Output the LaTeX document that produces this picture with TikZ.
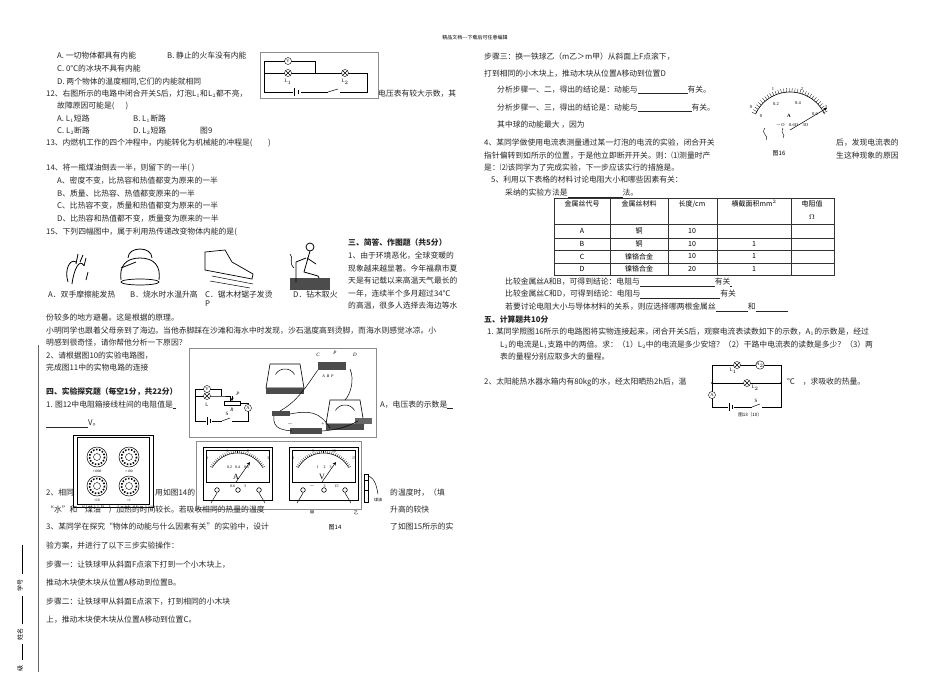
\documentclass[tikz,border=0pt]{standalone}
\usepackage{fontspec}
\newfontfamily\cjk{Noto Sans CJK SC}
\setmainfont{Liberation Serif}
\begin{document}
\begin{tikzpicture}[x=1pt,y=-1pt,
 t/.style={anchor=west,inner sep=0pt,font=\cjk\fontsize{7.8}{9}\selectfont,text=black!85},
 tb/.style={t,font=\cjk\bfseries\fontsize{7.8}{9}\selectfont},
 sm/.style={inner sep=0pt,font=\fontsize{5}{6}\selectfont},
 met/.style={circle,draw,fill=white,minimum size=7pt,inner sep=0pt,font=\fontsize{4.5}{5}\selectfont},
 lamp/.style={circle,draw,fill=white,minimum size=7pt,inner sep=0pt,path picture={\draw (path picture bounding box.north west)--(path picture bounding box.south east) (path picture bounding box.north east)--(path picture bounding box.south west);}},
 fr/.style={draw=black!45,line width=0.5pt},
 wire/.style={draw,line width=0.5pt},
 cell/.style={inner sep=0pt,font=\cjk\fontsize{7}{8}\selectfont}]
\useasboundingbox (0,0) rectangle (950,672);
\fill[white] (0,0) rectangle (950,672);
\node[sm,font=\cjk\fontsize{5}{6}\selectfont] (hdr) at (475,38) {精品文档---下载后可任意编辑};
% left column
\node[t] (a1) at (57,56) {A. 一切物体都具有内能};
\node[t] (b1) at (167,56) {B. 静止的火车没有内能};
\node[t] (c1) at (57,69) {C. 0℃的冰块不具有内能};
\node[t] (d1) at (57,82) {D. 两个物体的温度相同,它们的内能就相同};
\node[t] (q12) at (46,94) {12、右图所示的电路中闭合开关S后，灯泡L$_1$和L$_2$都不亮，};
\node[t] (q12b) at (378,94) {电压表有较大示数，其};
\node[t] (q12c) at (57,106) {故障原因可能是(\quad\ \ )};
\node[t] (q12A) at (57,119) {A. L$_1$短路};
\node[t] (q12B) at (133,119) {B. L$_1$断路};
\node[t] (q12C) at (57,131) {C. L$_2$断路};
\node[t] (q12D) at (133,131) {D. L$_2$短路};
\node[t] (f9) at (200,131) {图9};
% fig 9
\draw[fr] (260,52) rectangle (378,98);
\coordinate (p1) at (264,61); \coordinate (p2) at (315,61); \coordinate (p3) at (315,73);
\coordinate (p4) at (264,73); \coordinate (p5) at (367,73); \coordinate (p6) at (367,92); \coordinate (p7) at (264,92);
\draw[wire] (p1)--(p2)--(p3) (p4)--(p5)--(p6)--(p7)--(p1);
\node[met] (V9) at (288,61) {V};
\node[lamp] (L91) at (288,73) {};
\node[lamp] (L92) at (345,73) {};
\node[sm] (L91t) at (288,82) {L$_1$};
\node[sm] (L92t) at (345,82) {L$_2$};
\fill[white] (293,88) rectangle (301,96);
\draw[wire] (294,88)--(294,96) (298,90)--(298,94);
\fill[white] (328,88) rectangle (340,96);
\draw[wire] (328,92)--(338,89);
\node[t] (q13) at (46,143) {13、内燃机工作的四个冲程中，内能转化为机械能的冲程是(\qquad )};
\node[t] (q14) at (46,168) {14、将一瓶煤油倒去一半，则留下的一半( )};
\node[t] (q14a) at (57,181) {A、密度不变，比热容和热值都变为原来的一半};
\node[t] (q14b) at (57,194) {B、质量、比热容、热值都变原来的一半};
\node[t] (q14c) at (57,206) {C、比热容不变，质量和热值都变为原来的一半};
\node[t] (q14d) at (57,219) {D、比热容和热值都不变，质量变为原来的一半};
\node[t] (q15) at (46,232) {15、下列四幅图中，属于利用热传递改变物体内能的是(};
% pictures
\draw[line width=0.8pt] (68,282)..controls (64,270) and (70,258) ..(76,262) (72,284)..controls (74,268) and (80,258)..(84,266) (76,264)--(78,254) (80,262)--(83,255) (84,266)--(86,258) (86,280)--(88,272);
\draw[line width=0.7pt] (140,282) ellipse (19 and 3);
\draw[line width=0.8pt] (121,280)..controls (119,266) and (126,258) ..(140,258)..controls (154,258) and (161,266)..(159,280);
\draw[line width=0.8pt] (128,258)..controls (128,246) and (152,246)..(152,258);
\draw[line width=0.8pt] (121,268)--(136,262);
\draw[line width=0.7pt] (205,252)--(225,250)--(232,262)--(253,274)--(252,279)--(205,270)--cycle;
\draw[line width=0.5pt] (212,276)--(253,284) (210,281)--(250,288);
\draw[line width=0.8pt] (310,247) circle (4);
\draw[line width=0.8pt] (310,251)--(304,272)--(318,276)--(322,284) (306,258)--(296,262) (307,258)--(316,264);
\fill[black!70] (290,278) rectangle (330,290);
\draw[line width=0.6pt] (296,262)--(296,282) (294,268)..controls (288,262) and (294,258)..(290,254);
\node[t] (pa) at (48,295) {A．双手摩擦能发热};
\node[t] (pb) at (130,295) {B．烧水时水温升高};
\node[t] (pc) at (205,295) {C．锯木材锯子发烫};
\node[t] (pp) at (205,304) {P};
\node[t] (pd) at (293,295) {D．钻木取火};
\node[tb] (s3) at (348,243) {三、简答、作图题（共5分）};
\node[t] (s31) at (348,256) {1、由于环境恶化，全球变暖的};
\node[t] (s32) at (348,269) {现象越来越显著。今年福鼎市夏};
\node[t] (s33) at (348,281) {天是有记载以来高温天气最长的};
\node[t] (s34) at (348,294) {一年，连续半个多月超过34℃};
\node[t] (s35) at (348,306) {的高温，很多人选择去海边等水};
\node[t] (s36) at (46,318) {份较多的地方避暑。这是根据的原理。};
\node[t] (s37) at (46,331) {小明同学也跟着父母亲到了海边。当他赤脚踩在沙滩和海水中时发现，沙石温度高到烫脚，而海水则感觉冰凉。小};
\node[t] (s38) at (46,343) {明感到很奇怪，请你帮他分析一下原因？};
\node[t] (s39) at (46,356) {2、请根据图10的实验电路图，};
\node[t] (s310) at (46,368) {完成图11中的实物电路的连接};
\node[tb] (s4) at (46,392) {四、实验探究题（每空1分，共22分）};
\node[t] (s41) at (46,405) {1. 图12中电阻箱接线柱间的电阻值是\underline{\ \ }};
\node[t] (s41b) at (380,405) {A，电压表的示数是\underline{\ \ \ }};
\node[t] (s41c) at (46,424) {\underline{\hspace{42pt}}V。};
% fig 10/11
\draw[fr,fill=white] (189,348) rectangle (376,437);
\draw[wire] (195,389)--(195,421)--(248,421)--(248,408) (195,389)--(221,389)--(221,396) (195,396)--(221,396)--(230,396)--(230,403)--(248,403)--(248,408);
\node[met] (V10) at (207,389) {V};
\node[lamp] (L10) at (207,396) {};
\node[sm] (L10t) at (207,405) {L};
\draw[wire,fill=white] (224,401) rectangle (240,405);
\draw[wire,-stealth] (232,396)--(232,401);
\node[sm] (P10) at (238,394) {\itshape P};
\node[sm] (R10) at (232,410) {\itshape R};
\node[met,fill=white] (A10) at (248,408) {A};
\fill[white] (206,418) rectangle (212,424); \draw[wire] (207,417)--(207,425) (210,419)--(210,423);
\fill[white] (222,418) rectangle (232,424); \draw[wire] (222,421)--(230,418);
\node[sm] (S10) at (227,414) {S};
% physical meters
\foreach \px/\py in {270/364, 330/400}{
 \draw[line width=0.6pt,fill=white] (\px,\py) -- ++(30,0) -- ++(4,24) -- ++(-38,0) -- cycle;
 \draw[line width=0.5pt] plot[domain=30:150,samples=20] ({\px+15+11*cos(\x)},{\py+16-11*sin(\x)});
 \fill[black!70] (\px-4,\py+24) rectangle (\px+34,\py+30);
}
\fill[black!70] (318,362) rectangle (346,370);
\node[sm,font=\itshape\fontsize{5}{6}\selectfont] (rc) at (318,355) {C};
\node[sm,font=\itshape\fontsize{5}{6}\selectfont] (rp) at (335,353) {P};
\node[sm,font=\itshape\fontsize{5}{6}\selectfont] (rd) at (355,355) {D};
\node[sm,font=\itshape\fontsize{4}{5}\selectfont] (ra) at (328,376) {A\ \ B\ \ P};
\fill[black!70] (272,411) rectangle (290,416);
\fill[black!70] (290,428) rectangle (322,434);
\node[sm] (bm) at (290,424) {$-$};
\node[sm] (bp) at (323,424) {+};
\fill[black!60] (355,418) rectangle (372,424);
\draw[line width=0.5pt] (280,411)..controls (300,400) and (310,380)..(318,370) (350,369)..controls (355,380) and (350,395)..(345,400)
 (274,416)..controls (272,430) and (285,430)..(292,431) (322,431)..controls (335,430) and (345,428)..(358,421) (290,414)..controls (310,410) and (320,412)..(330,428);
% resistance box
\draw[line width=0.6pt,fill=white] (73,435) rectangle (153,507);
\draw[line width=0.5pt] (77,437) rectangle (149,504);
\foreach \cx/\cy/\lab in {97/457/{×1000},129/457/{×100},97/486/{×10},129/486/{×1}}{
 \draw[line width=0.5pt] (\cx,\cy) circle (10);
 \draw[line width=1.6pt,dash pattern=on 1.5pt off 1.6pt] (\cx,\cy) circle (7.5);
 \draw[line width=0.4pt] (\cx,\cy) circle (3.5);
 \node[sm,font=\fontsize{3.5}{4}\selectfont] at (\cx,\cy+14) {\lab};
}
% meters fig14
\draw[fr,fill=white] (196,441) rectangle (361,509);
\foreach \mx/\n in {203/A,289/V}{
 \draw[line width=0.8pt] (\mx,447) rectangle (\mx+69,500);
 \draw[line width=0.6pt] (\mx+3,450) rectangle (\mx+66,482);
 \draw[line width=0.5pt] plot[domain=30:150,samples=30] ({\mx+34.5+29*cos(\x)},{482-29*sin(\x)});
 \foreach \a in {150,146,...,30} \draw[line width=0.3pt] ({\mx+34.5+29*cos(\a)},{482-29*sin(\a)}) -- ({\mx+34.5+31.5*cos(\a)},{482-31.5*sin(\a)});
 \node[sm,font=\fontsize{8}{8}\selectfont] at (\mx+33,477) {\n};
 \draw[line width=0.5pt,-stealth] (\mx+33,482)--(\mx+47,462);
 \foreach \tx in {14,35,56} \draw[line width=0.6pt] (\mx+\tx,490) circle (2.3);
 \draw[line width=0.5pt] (\mx+14,493)--(\mx+8,503) (\mx+56,493)--(\mx+62,503);
}
\node[sm,font=\fontsize{4}{5}\selectfont] (am1) at (207,458) {0};
\node[sm,font=\fontsize{4}{5}\selectfont] (am2) at (227,451) {1};
\node[sm,font=\fontsize{4}{5}\selectfont] (am3) at (248,451) {2};
\node[sm,font=\fontsize{4}{5}\selectfont] (am4) at (268,458) {3};
\node[sm,font=\fontsize{4}{5}\selectfont] (am5) at (238,467) {0.2\ \ \ 0.4\ \ \ \ 0.6};
\node[sm,font=\fontsize{4}{5}\selectfont] (am6) at (238,486) {0.6\qquad\ 3};
\node[sm,font=\fontsize{4}{5}\selectfont] (vm1) at (293,458) {0};
\node[sm,font=\fontsize{4}{5}\selectfont] (vm2) at (313,451) {5};
\node[sm,font=\fontsize{4}{5}\selectfont] (vm3) at (334,451) {10};
\node[sm,font=\fontsize{4}{5}\selectfont] (vm4) at (354,458) {15};
\node[sm,font=\fontsize{4}{5}\selectfont] (vm5) at (324,467) {1\ \ \ \ \ 2\ \ \ \ 3};
\node[sm,font=\fontsize{4}{5}\selectfont] (vm6) at (324,486) {$-$\qquad\ 3\qquad\ 15};
\draw[line width=0.5pt] (364,474) rectangle (368,502) (364,480)--(369,480) (364,490)--(369,490);
\draw[line width=0.5pt] (368,476)..controls (376,478) and (377,490)..(378,494);
\node[sm,font=\cjk\fontsize{4}{5}\selectfont] (my) at (378,500) {煤油};
\node[sm,font=\cjk\fontsize{4.5}{5}\selectfont] (jia) at (312,513) {甲};
\node[sm,font=\cjk\fontsize{4.5}{5}\selectfont] (yi) at (356,513) {乙};
\node[sm,font=\cjk\fontsize{6}{7}\selectfont] (f14) at (335,527) {图14};
\node[t] (q2) at (46,493) {2、相同};
\node[t] (q2b) at (155,493) {用如图14的};
\node[t] (q2c) at (390,493) {的温度时，（填};
\node[t] (q2d) at (46,510) {“水”和“煤油”）加热的时间较长。若吸收相同的热量的温度};
\node[t] (q2e) at (390,510) {升高的较快};
\node[t] (q3) at (46,527) {3、某同学在探究“物体的动能与什么因素有关”的实验中，设计};
\node[t] (q3b) at (390,527) {了如图15所示的实};
\node[t] (q3c) at (46,546) {验方案，并进行了以下三步实验操作：};
\node[t] (q3d) at (46,565) {步骤一：让铁球甲从斜面\textit{F}点滚下打到一个小木块上，};
\node[t] (q3e) at (46,583) {推动木块使木块从位置\textit{A}移动到位置\textit{B}。};
\node[t] (q3f) at (46,602) {步骤二：让铁球甲从斜面E点滚下，打到相同的小木块};
\node[t] (q3g) at (46,620) {上，推动木块使木块从位置A移动到位置C。};
% margin
\draw[black!60,line width=0.6pt] (38,345)--(38,672);
\draw[line width=0.5pt] (22,545)--(22,574) (22,596)--(22,624) (22,644)--(22,660);
\node[sm,rotate=90,font=\cjk\fontsize{6}{7}\selectfont] (xh) at (20,585) {学号};
\node[sm,rotate=90,font=\cjk\fontsize{6}{7}\selectfont] (xm) at (20,634) {姓名};
\node[sm,rotate=90,font=\cjk\fontsize{6}{7}\selectfont] (xj) at (20,668) {级};
% right column
\node[t] (r1) at (484,57) {步骤三：换一铁球乙（m乙＞m甲）从斜面上F点滚下，};
\node[t] (r2) at (484,74) {打到相同的小木块上，推动木块从位置A移动到位置D};
\node[t] (r3) at (497,90) {分析步骤一、二，得出的结论是：动能与\underline{\hspace{50pt}}有关。};
\node[t] (r4) at (497,108) {分析步骤一、三，得出的结论是：动能与\underline{\hspace{54pt}}有关。};
\node[t] (r5) at (497,125) {其中球的动能最大 ，因为};
% fig 16
\draw[line width=0.6pt] plot[domain=25:155,samples=30] ({790+38*cos(\x)},{130-38*sin(\x)});
\foreach \a in {155,151,...,25} \draw[line width=0.3pt] ({790+38*cos(\a)},{130-38*sin(\a)}) -- ({790+42*cos(\a)},{130-42*sin(\a)});
\draw[line width=0.5pt,-stealth] (790,130)--(827,108);
\node[sm,font=\fontsize{4.5}{5}\selectfont] (g1) at (751,107) {0};
\node[sm,font=\fontsize{4.5}{5}\selectfont] (g2) at (773,89) {1};
\node[sm,font=\fontsize{4.5}{5}\selectfont] (g3) at (802,89) {2};
\node[sm,font=\fontsize{4.5}{5}\selectfont] (g4) at (826,107) {3};
\node[sm,font=\fontsize{4.5}{5}\selectfont] (g5) at (761,116) {0};
\node[sm,font=\fontsize{4.5}{5}\selectfont] (g6) at (776,104) {0.2};
\node[sm,font=\fontsize{4.5}{5}\selectfont] (g7) at (798,103) {0.4};
\node[sm,font=\fontsize{4.5}{5}\selectfont] (g8) at (815,114) {0.6};
\node[sm,font=\bfseries\fontsize{5}{6}\selectfont] (g9) at (789,116) {A};
\node[sm,font=\fontsize{4.5}{5}\selectfont] (g10) at (792,125) {$-$O\quad 0.6O\quad 3O};
\draw[line width=0.4pt] (765,128)..controls (760,134) and (770,136)..(766,140) (783,128)..controls (780,134) and (786,134)..(783,138);
\node[sm,font=\cjk\fontsize{6}{7}\selectfont] (f16) at (779,153) {图16};
\node[t] (r6) at (484,143) {4、某同学做使用电流表测量通过某一灯泡的电流的实验，闭合开关};
\node[t] (r6b) at (836,143) {后，发现电流表的};
\node[t] (r7) at (484,156) {指针偏转到如所示的位置，于是他立即断开开关。则：⑴测量时产};
\node[t] (r7b) at (836,156) {生这种现象的原因};
\node[t] (r8) at (484,168) {是：⑵该同学为了完成实验，下一步应该实行的措施是。};
\node[t] (r9) at (491,180) {5、利用以下表格的材料讨论电阻大小和哪些因素有关：};
\node[t] (r10) at (505,193) {采纳的实验方法是\underline{\hspace{55pt}}法。};
% table
\draw[line width=0.6pt,black!80] (554,198) rectangle (834,275);
\foreach \y in {224,238,250,263} \draw[line width=0.5pt,black!80] (554,\y)--(834,\y);
\foreach \x in {610,668,717,791} \draw[line width=0.5pt,black!80] (\x,198)--(\x,275);
\node[cell] (h1) at (582,204) {金属丝代号};
\node[cell] (h2) at (639,204) {金属丝材料};
\node[cell] (h3) at (692,204) {长度/cm};
\node[cell] (h4) at (754,204) {横截面积mm$^2$};
\node[cell] (h5) at (812,204) {电阻值};
\node[cell] (h6) at (812,217) {$\Omega$};
\foreach \r/\y/\m/\l/\s in {A/231/铜/10/,B/244/铜/10/1,C/256.5/镍铬合金/10/1,D/269/镍铬合金/20/1}{
 \node[cell] at (582,\y) {\r}; \node[cell] at (639,\y) {\m}; \node[cell] at (692,\y) {\l}; \node[cell] at (754,\y) {\s};}
\node[t] (r11) at (505,282) {比较金属丝A和B，可得到结论：电阻与\underline{\hspace{75pt}}有关\underline{\ }};
\node[t] (r12) at (505,294) {比较金属丝C和D，可得到结论：电阻与\underline{\hspace{80pt}}有关};
\node[t] (r13) at (505,307) {若要讨论电阻大小与导体材料的关系，则应选择哪两根金属丝\underline{\hspace{32pt}}和\underline{\hspace{32pt}}};
\node[tb] (s5) at (484,320) {五、计算题共10分};
\node[t] (r14) at (487,332) {1. 某同学照图16所示的电路图将实物连接起来，闭合开关S后，观察电流表读数如下的示数，A$_1$的示数是，经过};
\node[t] (r15) at (500,345) {L$_2$的电流是L$_1$支路中的两倍。求：（1）L$_2$中的电流是多少安培？（2）干路中电流表的读数是多少？（3）两};
\node[t] (r16) at (500,357) {表的量程分别应取多大的量程。};
\node[t] (r17) at (484,382) {2、太阳能热水器水箱内有80kg的水，经太阳晒热2h后，温};
\node[t] (r18) at (787,382) {℃\quad ，求吸收的热量。};
% fig 13
\coordinate (c1) at (712,365); \coordinate (c2) at (781,365); \coordinate (c3) at (781,407); \coordinate (c4) at (712,407);
\coordinate (m1) at (712,383); \coordinate (m2) at (781,383);
\draw[wire] (c1)--(c2)--(c3)--(c4)--(c1) (m1)--(m2);
\fill (m1) circle (1); \fill (m2) circle (1);
\node[lamp] (L131) at (737,365) {};
\node[met] (A132) at (760,365) {A$_2$};
\node[lamp] (L132) at (747,383) {};
\node[met] (A13) at (712,395) {A};
\node[sm] (L131t) at (733,371) {L$_1$};
\node[sm] (L132t) at (755,388) {L$_2$};
\fill[white] (728,403) rectangle (734,411); \draw[wire] (729,403)--(729,411) (732,405)--(732,409);
\fill[white] (752,403) rectangle (762,411); \draw[wire] (752,407)--(760,404);
\node[sm] (S13) at (756,401) {S};
\node[sm,font=\cjk\fontsize{4.5}{5}\selectfont] (f13) at (750,415) {图13（10）};
\end{tikzpicture}
\end{document}
